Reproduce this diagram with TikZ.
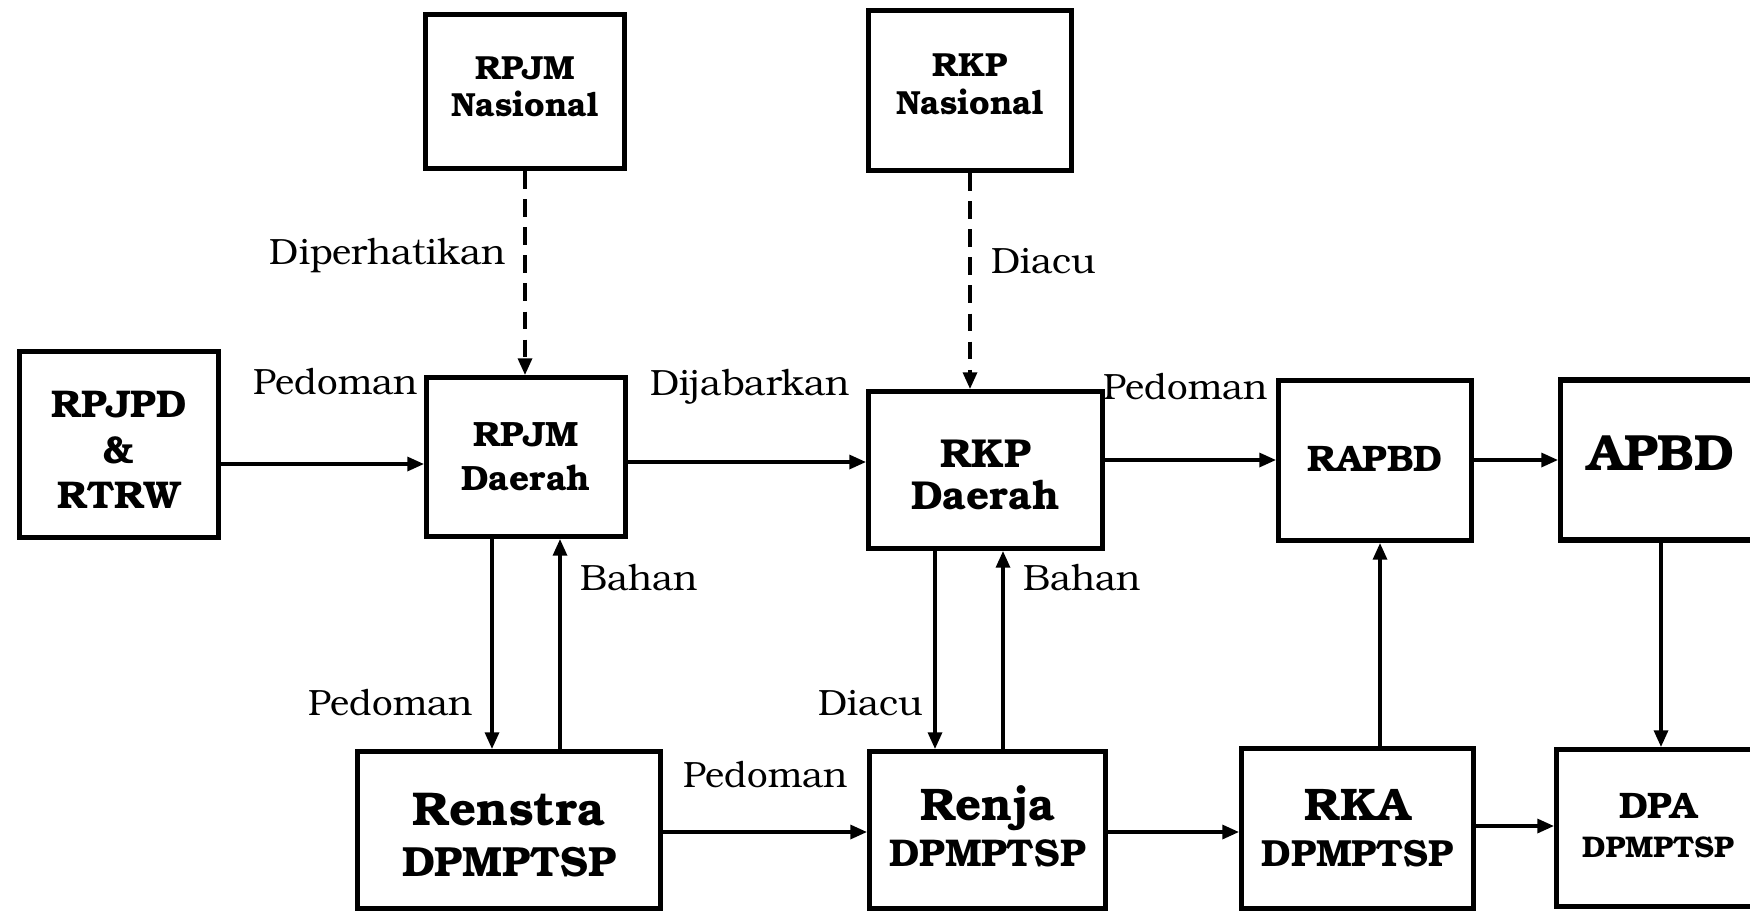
\documentclass[tikz,border=0pt]{standalone}
\usepackage{fontspec}
\setmainfont{TeX Gyre Bonum}
\usetikzlibrary{arrows.meta}
\begin{document}
\begin{tikzpicture}[x=0.02cm,y=-0.02cm,
  box/.style={draw, line width=2.9pt, inner sep=0pt},
  bt/.style={inner sep=0pt, align=center},
  arr/.style={line width=1.8pt, -{Triangle[length=9.5pt,width=8pt]}},
  dsh/.style={arr, dash pattern=on 10pt off 6pt},
  lbl/.style={inner sep=0pt, font=\fontsize{20.8}{24}\selectfont}]
\useasboundingbox (0,0) rectangle (1750,914);
\clip (0,0) rectangle (1750,914);
% boxes
\node[box, minimum width=3.98cm, minimum height=3.08cm] (rpjmn) at (525,91.5) {};
\node[box, minimum width=4.06cm, minimum height=3.2cm] (rkpn) at (970,90.5) {};
\node[box, minimum width=3.98cm, minimum height=3.72cm] (rpjpd) at (119,444.5) {};
\node[box, minimum width=3.98cm, minimum height=3.18cm] (rpjmd) at (526,457) {};
\node[box, minimum width=4.68cm, minimum height=3.14cm] (rkpd) at (985.5,470) {};
\node[box, minimum width=3.86cm, minimum height=3.2cm] (rapbd) at (1375,460.5) {};
\node[box, minimum width=4.02cm, minimum height=3.2cm] (apbd) at (1661,460) {};
\node[box, minimum width=6.06cm, minimum height=3.14cm] (renstra) at (509,830) {};
\node[box, minimum width=4.72cm, minimum height=3.14cm] (renja) at (987.5,830) {};
\node[box, minimum width=4.64cm, minimum height=3.2cm] (rka) at (1357.5,828.5) {};
\node[box, minimum width=4.06cm, minimum height=3.14cm] (dpa) at (1658,828) {};
% box texts
\node[bt, font=\bfseries\fontsize{19}{21}\selectfont] (rpjmn-t) at ([yshift=2.5pt]rpjmn.center) {RPJM\\Nasional};
\node[bt, font=\bfseries\fontsize{19}{22}\selectfont] (rkpn-t) at ([yshift=3.5pt]rkpn.center) {RKP\\Nasional};
\node[bt, font=\bfseries\fontsize{22}{26}\selectfont] (rpjpd-t) at ([yshift=-3.2pt]rpjpd.center) {RPJPD\\\&\\RTRW};
\node[bt, font=\bfseries\fontsize{20}{25}\selectfont] (rpjmd-t) at (rpjmd.center) {RPJM\\Daerah};
\node[bt, font=\bfseries\fontsize{23}{24}\selectfont] (rkpd-t) at ([yshift=-2.9pt]rkpd.center) {RKP\\Daerah};
\node[bt, font=\bfseries\fontsize{21}{25}\selectfont] (rapbd-t) at ([yshift=1pt]rapbd.center) {RAPBD};
\node[bt, font=\bfseries\fontsize{29}{34}\selectfont] (apbd-t) at ([yshift=3.8pt]apbd.center) {APBD};
\node[bt, font=\bfseries\fontsize{27}{29}\selectfont] (renstra-t) at ([yshift=-2.9pt]renstra.center) {Renstra\\{\fontsize{24}{29}\selectfont DPMPTSP}};
\node[bt, font=\bfseries\fontsize{26}{26}\selectfont] (renja-t) at ([yshift=2.2pt]renja.center) {Renja\\{\fontsize{22}{26}\selectfont DPMPTSP}};
\node[bt, font=\bfseries\fontsize{26}{26}\selectfont] (rka-t) at (rka.center) {RKA\\{\fontsize{21.5}{26}\selectfont DPMPTSP}};
\node[bt, font=\bfseries\fontsize{21}{22}\selectfont] (dpa-t) at ([yshift=1.5pt]dpa.center) {DPA\\{\fontsize{17}{22}\selectfont DPMPTSP}};
% connectors
\draw[dsh] (rpjmn.south) -- (rpjmn.south |- rpjmd.north);
\draw[dsh] (rkpn.south) -- (rkpn.south |- rkpd.north);
\draw[arr] (rpjpd.east |- 0,464) -- (rpjmd.west |- 0,464);
\draw[arr] (rpjmd.east |- 0,462) -- (rkpd.west |- 0,462);
\draw[arr] (rkpd.east |- 0,460) -- (rapbd.west |- 0,460);
\draw[arr] (rapbd.east |- 0,460) -- (apbd.west |- 0,460);
\draw[arr] (renstra.east |- 0,832) -- (renja.west |- 0,832);
\draw[arr] (renja.east |- 0,832) -- (rka.west |- 0,832);
\draw[arr] (rka.east |- 0,826) -- (dpa.west |- 0,826);
\draw[arr] (rpjmd.south -| 492,0) -- (renstra.north -| 492,0);
\draw[arr] (renstra.north -| 560,0) -- (rpjmd.south -| 560,0);
\draw[arr] (rkpd.south -| 935,0) -- (renja.north -| 935,0);
\draw[arr] (renja.north -| 1003,0) -- (rkpd.south -| 1003,0);
\draw[arr] (rka.north -| 1380,0) -- (rapbd.south -| 1380,0);
\draw[arr] (apbd.south -| 1661,0) -- (dpa.north -| 1661,0);
% labels
\node[lbl, anchor=east] (l1) at (418,382) {Pedoman};
\node[lbl, anchor=east] (l2) at (506,256) {Diperhatikan};
\node[lbl, anchor=east] (l3) at (850,387) {Dijabarkan};
\node[lbl, anchor=west] (l4) at (991,261) {Diacu};
\node[lbl, anchor=east] (l5) at (1268,387) {Pedoman};
\node[lbl, anchor=west] (l6) at (580,578) {Bahan};
\node[lbl, anchor=west] (l7) at (1023,578) {Bahan};
\node[lbl, anchor=east] (l8) at (473,703) {Pedoman};
\node[lbl, anchor=east] (l9) at (924,703) {Diacu};
\node[lbl, anchor=east] (l10) at (848,775) {Pedoman};
\end{tikzpicture}
\end{document}
